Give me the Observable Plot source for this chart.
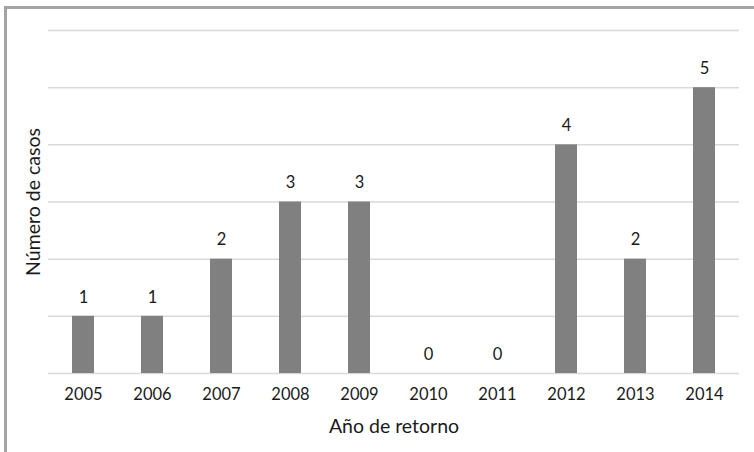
<!DOCTYPE html>
<html><head><meta charset="utf-8">
<script src="https://cdn.jsdelivr.net/npm/d3@7"></script>
<script src="https://cdn.jsdelivr.net/npm/@observablehq/plot@0.6"></script>
<style>
body{margin:0;background:#fff;}
#wrap{position:relative;width:754px;height:452px;overflow:hidden;}
#border{position:absolute;left:4px;top:6px;width:800px;height:500px;border-left:3px solid #a3a3a3;border-top:3px solid #a3a3a3;box-sizing:border-box;}
svg{position:absolute;left:0;top:0;}
</style></head>
<body><div id="wrap"><div id="border"></div></div>
<script>
const years = ["2005","2006","2007","2008","2009","2010","2011","2012","2013","2014"];
const cases = [1,1,2,3,3,0,0,4,2,5];
const yTicks = [0,1,2,3,4,5,6];
const data = years.map((y,i)=>({year:y, n:cases[i]}));
const font = "Lato, 'Open Sans', sans-serif";
const chart = Plot.plot({
  width:754, height:452,
  marginLeft:48, marginRight:15, marginTop:30, marginBottom:79,
  style:{fontFamily:font, fontSize:"16.5px", color:"#1a1a1a", background:"transparent"},
  x:{domain:years, paddingInner:0.68, paddingOuter:0.34, label:null},
  y:{domain:[0,6], label:null, axis:null},
  marks:[
    Plot.ruleY(yTicks, {stroke:"#d9d9d9", strokeWidth:1.5}),
    Plot.barY(data, {x:"year", y:"n", fill:"#808080"}),
    Plot.text(data, {x:"year", y:"n", text:d=>String(d.n), dy:-19, fontSize:16.5, fill:"#1a1a1a"}),
    Plot.axisX({tickSize:0, tickPadding:15, fontSize:16.5, label:null}),
    Plot.text(["Año de retorno"], {frameAnchor:"bottom", dy:59, fontSize:19.5, fill:"#1a1a1a"}),
    Plot.text(["Número de casos"], {frameAnchor:"left", textAnchor:"middle", dx:-15, rotate:-90, fontSize:19.5, fill:"#1a1a1a"})
  ]
});
document.getElementById("wrap").appendChild(chart);
</script>
</body></html>
